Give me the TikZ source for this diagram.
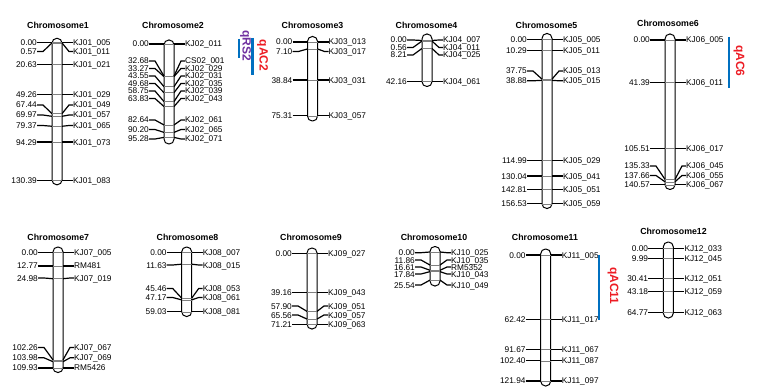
\documentclass[tikz,border=0pt]{standalone}
\usepackage{fontspec}
\setmainfont{Liberation Sans}
\usetikzlibrary{calc}
\definecolor{qblue}{RGB}{0,112,192}
\definecolor{qred}{RGB}{237,28,36}
\definecolor{qpurple}{RGB}{112,48,160}
\tikzset{
  numlab/.style={font=\fontsize{8.3}{9}\selectfont, inner sep=0pt, anchor=east, text height=6pt, text depth=0pt},
  namlab/.style={font=\fontsize{8.3}{9}\selectfont, inner sep=0pt, anchor=west, text height=6pt, text depth=0pt},
  leader/.style={line width=1.2pt, black},
  innerline/.style={line width=0.5pt, gray},
  barst/.style={draw=black, line width=1pt, fill=white, rounded corners=4.8pt},
  chromtitle/.style={font=\bfseries\fontsize{8.8}{10}\selectfont, inner sep=0pt},
  qtl/.style={line width=2.5pt, qblue},
  qtext/.style={font=\bfseries\fontsize{12}{14}\selectfont, rotate=-90, inner sep=0pt}
}
% name, cM, label y, right text
\newcommand\mk[4]{%
  \coordinate (#1m) at (\xc, \yz+\sc*#2);
  \node[numlab] (#1l) at (\xc-20, #3) {#2};
  \node[namlab] (#1r) at (\xc+16, #3) {#4};
  \draw[leader] (#1l.east) -- ++(6,0) -- ($(#1m)+(-5,0)$);
  \draw[innerline] ($(#1m)+(-5,0)$) -- ($(#1m)+(5,0)$);
  \draw[leader] ($(#1m)+(5,0)$) -- ($(#1r.west)+(-4,0)$) -- (#1r.west);
}
\newcommand\mks[3]{\mk{#1}{#2}{\yz+\sc*#2}{#3}}
\begin{document}
\begin{tikzpicture}[x=1pt,y=-1pt]
\useasboundingbox[fill=white] (0,0) rectangle (765,390);
% Chromosome 1
\def\xc{57}\def\yz{42.3}\def\sc{1.058}
\draw[barst] (\xc-5,38.3) rectangle (\xc+5,184.8);
\node[chromtitle] (t1) at (58,25) {Chromosome1};
\mks{a1}{0.00}{KJ01\_005}
\mk{a2}{0.57}{51.5}{KJ01\_011}
\mks{a3}{20.63}{KJ01\_021}
\mks{a4}{49.26}{KJ01\_029}
\mk{a5}{67.44}{105}{KJ01\_049}
\mk{a6}{69.97}{115}{KJ01\_057}
\mk{a7}{79.37}{125.5}{KJ01\_065}
\mks{a8}{94.29}{KJ01\_073}
\mks{a9}{130.39}{KJ01\_083}
% Chromosome 2
\def\xc{169}\def\yz{44}\def\sc{0.98}
\draw[barst] (\xc-5,40) rectangle (\xc+5,144);
\node[chromtitle] (t2) at (173,25) {Chromosome2};
\mks{b1}{0.00}{KJ02\_011}
\mk{b2}{32.68}{61}{CS02\_001}
\mk{b3}{33.27}{68.5}{KJ02\_029}
\mk{b4}{43.55}{76}{KJ02\_031}
\mk{b5}{49.68}{83.5}{KJ02\_035}
\mk{b6}{58.75}{91}{KJ02\_039}
\mk{b7}{63.83}{98.5}{KJ02\_043}
\mk{b8}{82.64}{120}{KJ02\_061}
\mk{b9}{90.20}{129.5}{KJ02\_065}
\mk{b10}{95.28}{139}{KJ02\_071}
% Chromosome 3
\def\xc{312.5}\def\yz{42}\def\sc{0.98}
\draw[barst] (\xc-5,36.5) rectangle (\xc+5,121);
\node[chromtitle] (t3) at (312.5,25) {Chromosome3};
\mks{c1}{0.00}{KJ03\_013}
\mk{c2}{7.10}{51.5}{KJ03\_017}
\mks{c3}{38.84}{KJ03\_031}
\mks{c4}{75.31}{KJ03\_057}
% Chromosome 4
\def\xc{427}\def\yz{40.5}\def\sc{0.97}
\draw[barst] (\xc-5,34) rectangle (\xc+5,86.5);
\node[chromtitle] (t4) at (426.5,25) {Chromosome4};
\mk{d1}{0.00}{40}{KJ04\_007}
\mk{d2}{0.56}{47.5}{KJ04\_011}
\mk{d3}{8.21}{55}{KJ04\_025}
\mks{d4}{42.16}{KJ04\_061}
% Chromosome 5
\def\xc{547}\def\yz{39.5}\def\sc{1.05}
\draw[barst] (\xc-5,33.5) rectangle (\xc+5,208.5);
\node[chromtitle] (t5) at (546.5,25) {Chromosome5};
\mks{e1}{0.00}{KJ05\_005}
\mks{e2}{10.29}{KJ05\_011}
\mk{e3}{37.75}{71}{KJ05\_013}
\mk{e4}{38.88}{80.8}{KJ05\_015}
\mks{e5}{114.99}{KJ05\_029}
\mks{e6}{130.04}{KJ05\_041}
\mks{e7}{142.81}{KJ05\_051}
\mks{e8}{156.53}{KJ05\_059}
% Chromosome 6
\def\xc{670}\def\yz{40}\def\sc{1.03}
\draw[barst] (\xc-5,34) rectangle (\xc+5,189.5);
\node[chromtitle] (t6) at (668,23) {Chromosome6};
\mks{f1}{0.00}{KJ06\_005}
\mks{f2}{41.39}{KJ06\_011}
\mks{f3}{105.51}{KJ06\_017}
\mk{f4}{135.33}{166}{KJ06\_045}
\mk{f5}{137.66}{175.5}{KJ06\_055}
\mks{f6}{140.57}{KJ06\_067}
% Chromosome 7
\def\xc{58}\def\yz{252.5}\def\sc{1.05}
\draw[barst] (\xc-5,247) rectangle (\xc+5,372.5);
\node[chromtitle] (t7) at (58.3,237) {Chromosome7};
\mks{g1}{0.00}{KJ07\_005}
\mks{g2}{12.77}{RM481}
\mk{g3}{24.98}{278}{KJ07\_019}
\mk{g4}{102.26}{347.5}{KJ07\_067}
\mk{g5}{103.98}{357.8}{KJ07\_069}
\mks{g6}{109.93}{RM5426}
% Chromosome 8
\def\xc{186.7}\def\yz{252.5}\def\sc{1.005}
\draw[barst] (\xc-5,247) rectangle (\xc+5,316.5);
\node[chromtitle] (t8) at (187.5,237) {Chromosome8};
\mks{h1}{0.00}{KJ08\_007}
\mk{h2}{11.63}{265}{KJ08\_015}
\mk{h3}{45.46}{288.5}{KJ08\_053}
\mk{h4}{47.17}{297.5}{KJ08\_061}
\mks{h5}{59.03}{KJ08\_081}
% Chromosome 9
\def\xc{312}\def\yz{253.5}\def\sc{1.0}
\draw[barst] (\xc-5,248) rectangle (\xc+5,329);
\node[chromtitle] (t9) at (311,237) {Chromosome9};
\mks{i1}{0.00}{KJ09\_027}
\mks{i2}{39.16}{KJ09\_043}
\mk{i3}{57.90}{306}{KJ09\_051}
\mk{i4}{65.56}{315}{KJ09\_057}
\mks{i5}{71.21}{KJ09\_063}
% Chromosome 10
\def\xc{435}\def\yz{252}\def\sc{1.1}
\draw[barst] (\xc-5,246.5) rectangle (\xc+5,286);
\node[chromtitle] (t10) at (434,237) {Chromosome10};
\mk{j1}{0.00}{252.7}{KJ10\_025}
\mk{j2}{11.86}{260}{KJ10\_035}
\mk{j3}{16.61}{267}{RM5352}
\mk{j4}{17.84}{274}{KJ10\_043}
\mk{j5}{25.54}{285}{KJ10\_049}
% Chromosome 11
\def\xc{545.7}\def\yz{255}\def\sc{1.033}
\draw[barst] (\xc-5,249) rectangle (\xc+5,386);
\node[chromtitle] (t11) at (545,237) {Chromosome11};
\mks{k1}{0.00}{KJ11\_005}
\mks{k2}{62.42}{KJ11\_017}
\mks{k3}{91.67}{KJ11\_067}
\mks{k4}{102.40}{KJ11\_087}
\mks{k5}{121.94}{KJ11\_097}
% Chromosome 12
\def\xc{668.3}\def\yz{248.3}\def\sc{0.994}
\draw[barst] (\xc-5,242) rectangle (\xc+5,318);
\node[chromtitle] (t12) at (673.5,231.7) {Chromosome12};
\mks{l1}{0.00}{KJ12\_033}
\mks{l2}{9.99}{KJ12\_045}
\mks{l3}{30.41}{KJ12\_051}
\mks{l4}{43.18}{KJ12\_059}
\mks{l5}{64.77}{KJ12\_063}
% QTL
\coordinate (q1a) at (239,39); \coordinate (q1b) at (239,58);
\draw[qtl] (q1a) -- (q1b);
\node[qtext, text=qpurple] (qrs2) at (245.5,46) {qRS2};
\coordinate (q2a) at (252.5,38); \coordinate (q2b) at (252.5,75);
\draw[qtl] (q2a) -- (q2b);
\node[qtext, text=qred] (qac2) at (262.5,55.5) {qAC2};
\coordinate (q6a) at (729,37); \coordinate (q6b) at (729,88);
\draw[qtl] (q6a) -- (q6b);
\node[qtext, text=qred] (qac6) at (739,61) {qAC6};
\coordinate (q11a) at (599,255); \coordinate (q11b) at (599,320);
\draw[qtl] (q11a) -- (q11b);
\node[qtext, text=qred] (qac11) at (613,286) {qAC11};
\end{tikzpicture}
\end{document}
